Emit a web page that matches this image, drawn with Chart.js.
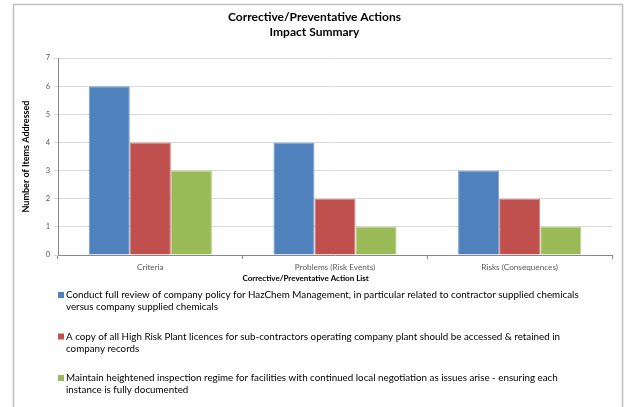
<!DOCTYPE html>
<html>
<head>
<meta charset="utf-8">
<script src="https://cdn.jsdelivr.net/npm/chart.js@4.4.1/dist/chart.umd.min.js"></script>
<style>
    html, body { margin: 0; padding: 0; background: #fff; }
    #wrap { width: 627px; height: 407px; }
</style>
</head>
<body>
<div id="wrap"><canvas id="grafico" width="627" height="407"></canvas></div>
<script>
const categorias = ['Criteria', 'Problems (Risk Events)', 'Risks (Consequences)'];
const serieAzul = [6, 4, 3];
const serieRoja = [4, 2, 2];
const serieVerde = [3, 1, 1];
const ticksY = [0, 1, 2, 3, 4, 5, 6, 7];
const tituloX = 'Corrective/Preventative Action List';
const leyendaAzul = ['Conduct full review of company policy for HazChem Management, in particular related to contractor supplied chemicals',
    'versus company supplied chemicals'];
const leyendaRoja = ['A copy of all High Risk Plant licences for sub-contractors operating company plant should be accessed & retained in',
    'company records'];
const leyendaVerde = ['Maintain heightened inspection regime for facilities with continued local negotiation as issues arise - ensuring each',
    'instance is fully documented'];

const FUENTE = 'Lato, "Open Sans", sans-serif';

// marco gris alrededor del grafico
const marcoPlugin = {
    id: 'marco',
    beforeDraw(chart) {
        const ctx = chart.ctx;
        ctx.save();
        ctx.fillStyle = '#fff';
        ctx.fillRect(0, 0, chart.width, chart.height);
        ctx.strokeStyle = '#bfbfbf';
        ctx.lineWidth = 1.5;
        ctx.strokeRect(13.5, 4.5, 609, 430);
        ctx.restore();
    }
};

// titulo del eje X (un poco corrido a la izquierda como en Excel) y leyenda de varias lineas
const leyendaPlugin = {
    id: 'leyendaLarga',
    afterDraw(chart) {
        const ctx = chart.ctx;
        const area = chart.chartArea;
        ctx.save();
        ctx.textBaseline = 'middle';
        ctx.textAlign = 'center';
        ctx.fillStyle = '#000';
        ctx.font = 'bold 8px ' + FUENTE;
        ctx.fillText(tituloX, area.left + (area.right - area.left) * 0.447, area.bottom + 23);

        ctx.textAlign = 'left';
        ctx.font = '9.8px ' + FUENTE;
        chart.data.datasets.forEach(function(ds, i) {
            const y0 = 295 + i * 41.5;
            ctx.fillStyle = ds.backgroundColor;
            ctx.fillRect(58, y0 - 3, 6, 6);
            ctx.fillStyle = '#000';
            ds.lineas.forEach(function(linea, j) {
                ctx.fillText(linea, 66, y0 + j * 12);
            });
        });
        ctx.restore();
    }
};

new Chart(document.getElementById('grafico').getContext('2d'), {
    type: 'bar',
    data: {
        labels: categorias,
        datasets: [
            { label: 'Azul', data: serieAzul, backgroundColor: '#4f81bd', borderColor: '#7da2cf', borderWidth: 1, lineas: leyendaAzul },
            { label: 'Roja', data: serieRoja, backgroundColor: '#c0504d', borderColor: '#d47f7c', borderWidth: 1, lineas: leyendaRoja },
            { label: 'Verde', data: serieVerde, backgroundColor: '#9bbb59', borderColor: '#b7d08a', borderWidth: 1, lineas: leyendaVerde }
        ]
    },
    options: {
        responsive: false,
        animation: false,
        devicePixelRatio: 1,
        layout: { padding: { left: 17, right: 15, top: 0, bottom: 122 } },
        datasets: { bar: { categoryPercentage: 0.667, barPercentage: 1 } },
        scales: {
            x: {
                grid: { display: true, drawOnChartArea: false, drawTicks: true, tickLength: 4, color: '#888' },
                border: { color: '#888' },
                ticks: { color: '#595959', font: { family: FUENTE, size: 8.2 }, padding: 3 },
                afterFit(scale) { scale.height = 30; }
            },
            y: {
                min: 0, max: 7,
                afterBuildTicks(scale) { scale.ticks = ticksY.map(v => ({ value: v })); },
                grid: { color: '#d9d9d9', tickLength: 4 },
                border: { color: '#888' },
                ticks: { color: '#595959', font: { family: FUENTE, size: 7.5 }, padding: 4 },
                title: { display: true, text: 'Number of Items Addressed', color: '#000',
                    font: { family: FUENTE, size: 9, weight: 'bold' }, padding: { top: 4, bottom: 0 } },
                afterFit(scale) { scale.width = 41; }
            }
        },
        plugins: {
            legend: { display: false },
            tooltip: { enabled: false },
            title: {
                display: true,
                text: ['Corrective/Preventative Actions', 'Impact Summary'],
                color: '#000',
                font: { family: FUENTE, size: 12, weight: 'bold', lineHeight: 1.25 },
                padding: { top: 10, bottom: 18 }
            }
        }
    },
    plugins: [marcoPlugin, leyendaPlugin]
});
</script>
</body>
</html>
